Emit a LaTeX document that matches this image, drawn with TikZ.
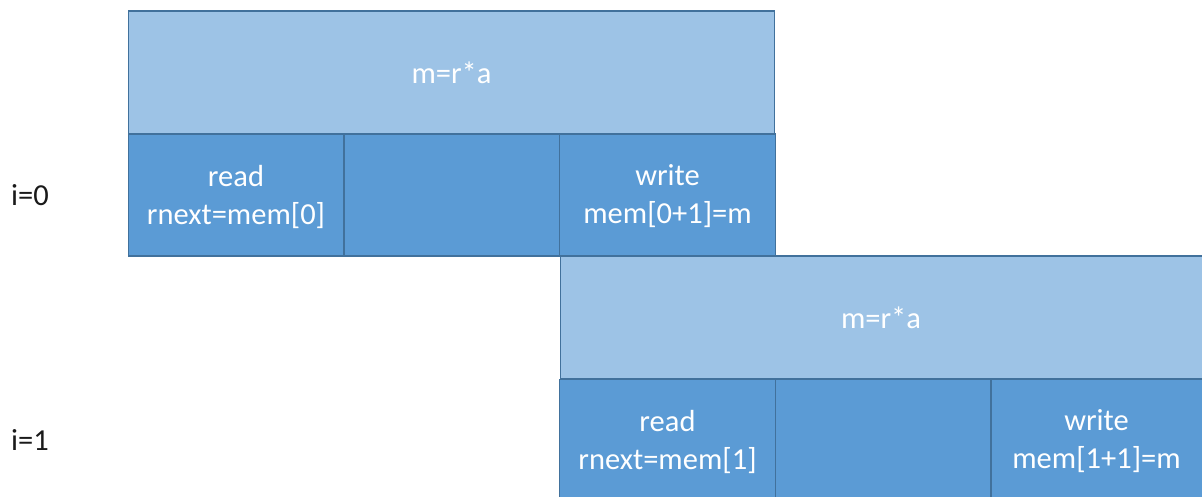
\documentclass[tikz,border=0pt]{standalone}
\usepackage{fontspec}
\setmainfont{Carlito}
\definecolor{lightblue}{HTML}{9DC3E6}
\definecolor{darkblue}{HTML}{5B9BD5}
\definecolor{edgeblue}{HTML}{41719C}
\definecolor{labelgray}{HTML}{1A1A1A}
\begin{document}
\begin{tikzpicture}[x=1pt,y=-1pt,
  topbox/.style={draw=edgeblue,line width=1.2pt,fill=lightblue,text=white,inner sep=0pt,
    font=\fontsize{30.5}{38}\selectfont},
  cellbox/.style={draw=edgeblue,line width=1.2pt,fill=darkblue,text=white,inner sep=0pt,
    align=center,font=\fontsize{30.5}{38}\selectfont},
  celltext/.style={text=white,align=center,inner sep=0pt,font=\fontsize{30.5}{38}\selectfont},
  iterlabel/.style={text=labelgray,anchor=west,inner sep=0pt,font=\fontsize{30.5}{38}\selectfont}]
\useasboundingbox (0,0) rectangle (1202,496);
\begin{scope}
\clip (0,0) rectangle (1202,496);
% iteration 0
\node[topbox,minimum width=646pt,minimum height=123pt] (t0) at (451.5,72.5) {m=r*a};
\node[cellbox,minimum width=215.3pt,minimum height=122pt] (r0) at (236,195) {};
\node[celltext] (r0t) at (236,196.5) {read\\rnext=mem[0]};
\node[cellbox,minimum width=215.3pt,minimum height=122pt] (e0) at (452,195) {};
\node[cellbox,minimum width=215.3pt,minimum height=122pt] (w0) at (667.5,195) {};
\node[celltext] (w0t) at (667.5,196.5) {write\\mem[0+1]=m};
% iteration 1
\node[topbox,minimum width=670pt,minimum height=123pt,anchor=west] (t1) at (560,317.5) {};
\node[celltext] (t1t) at (881,317.5) {m=r*a};
\node[cellbox,minimum width=215.3pt,minimum height=130pt,anchor=north] (r1) at (667.5,379) {};
\node[celltext] (r1t) at (667.5,441.5) {read\\rnext=mem[1]};
\node[cellbox,minimum width=215.3pt,minimum height=130pt,anchor=north] (e1) at (883,379) {};
\node[cellbox,minimum width=240pt,minimum height=130pt,anchor=north west] (w1) at (990.5,379) {};
\node[celltext] (w1t) at (1096.5,441.5) {write\\mem[1+1]=m};
\end{scope}
\node[iterlabel] (i0) at (11,195) {i=0};
\node[iterlabel] (i1) at (11,440) {i=1};
\end{tikzpicture}
\end{document}
